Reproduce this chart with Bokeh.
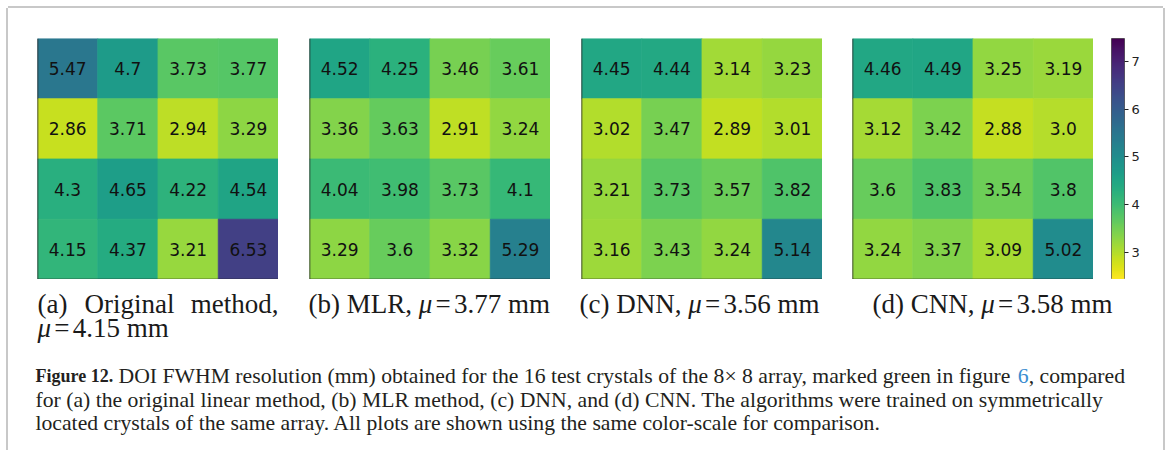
import numpy as np
from bokeh.plotting import figure
from bokeh.layouts import row, column
from bokeh.models import Range1d, LinearColorMapper, Span, LinearAxis, FixedTicker, ColumnDataSource
from bokeh.palettes import Viridis256
from bokeh.core.properties import value
from bokeh.embed import file_html
from bokeh.resources import INLINE

# ---------------- data ----------------
original_vals = [[5.47, 4.7, 3.73, 3.77],
                 [2.86, 3.71, 2.94, 3.29],
                 [4.3, 4.65, 4.22, 4.54],
                 [4.15, 4.37, 3.21, 6.53]]
mlr_vals = [[4.52, 4.25, 3.46, 3.61],
            [3.36, 3.63, 2.91, 3.24],
            [4.04, 3.98, 3.73, 4.1],
            [3.29, 3.6, 3.32, 5.29]]
dnn_vals = [[4.45, 4.44, 3.14, 3.23],
            [3.02, 3.47, 2.89, 3.01],
            [3.21, 3.73, 3.57, 3.82],
            [3.16, 3.43, 3.24, 5.14]]
cnn_vals = [[4.46, 4.49, 3.25, 3.19],
            [3.12, 3.42, 2.88, 3.0],
            [3.6, 3.83, 3.54, 3.8],
            [3.24, 3.37, 3.09, 5.02]]
color_low = 2.43
color_high = 7.48
colorbar_ticks = [3, 4, 5, 6, 7]
panel_letters = ["a", "b", "c", "d"]
panel_names = ["Original method", "MLR", "DNN", "CNN"]
panel_means = ["4.15", "3.77", "3.56", "3.58"]
caption_lines = [
    "DOI FWHM resolution (mm) obtained for the 16 test crystals of the 8\u00d7 8 array, marked green in figure",
    "for (a) the original linear method, (b) MLR method, (c) DNN, and (d) CNN. The algorithms were trained on symmetrically",
    "located crystals of the same array. All plots are shown using the same color-scale for comparison.",
]

mapper = LinearColorMapper(palette=list(reversed(Viridis256)), low=color_low, high=color_high)

# Times / Liberation Serif advance widths (em)
TR = {' ': .25, '(': .333, ')': .333, ',': .25, '.': .25, '=': .564, '\u00d7': .564, '-': .333,
      'a': .444, 'b': .5, 'c': .444, 'd': .5, 'e': .444, 'f': .333, 'g': .5, 'h': .5, 'i': .278,
      'j': .278, 'k': .5, 'l': .278, 'm': .778, 'n': .5, 'o': .5, 'p': .5, 'q': .5, 'r': .333,
      's': .389, 't': .278, 'u': .5, 'v': .5, 'w': .722, 'x': .5, 'y': .5, 'z': .444,
      'A': .722, 'C': .667, 'D': .722, 'F': .556, 'G': .722, 'H': .722, 'I': .333, 'L': .611,
      'M': .889, 'N': .722, 'O': .722, 'R': .667, 'T': .611, 'W': .944, '\u03bc': .5}


def tw(s, size, table=TR):
    return sum(table.get(ch, .5) for ch in s) * size


def heatmap(vals, left_border, width):
    nr, nc = len(vals), len(vals[0])
    xs, ys, vs, labels = [], [], [], []
    for r in range(nr):
        for c in range(nc):
            xs.append(c + 0.5)
            ys.append(r + 0.5)
            vs.append(vals[r][c])
            labels.append(str(vals[r][c]))
    src = ColumnDataSource(dict(x=xs, y=ys, v=vs, label=labels))
    p = figure(width=width, height=271, x_range=Range1d(0, nc), y_range=Range1d(nr, 0),
               output_backend="svg", toolbar_location=None,
               x_axis_location=None, y_axis_location=None,
               min_border_left=left_border, min_border_right=0,
               min_border_top=30, min_border_bottom=0)
    p.grid.visible = False
    p.outline_line_color = None
    cmap = {'field': 'v', 'transform': mapper}
    p.rect(x='x', y='y', width=1, height=1, source=src, fill_color=cmap,
           line_color=cmap, line_width=0.8)
    p.text(x='x', y='y', text='label', source=src, text_align='center',
           text_baseline='middle', text_font=value("DejaVu Sans"),
           text_font_size="17px", text_color="#111111")
    p.add_layout(Span(location=0, dimension='height', line_color="#222222", line_width=1.5))
    p.add_layout(Span(location=nr, dimension='width', line_color="#222222", line_width=1.5))
    return p


fa = heatmap(original_vals, 29, 270)
fb = heatmap(mlr_vals, 31, 272)
fc = heatmap(dnn_vals, 31, 272)
fd = heatmap(cnn_vals, 30, 271)

# colorbar
cb = figure(width=70, height=271, x_range=Range1d(0, 1), y_range=Range1d(color_low, color_high),
            output_backend="svg", toolbar_location=None,
            x_axis_location=None, y_axis_location=None,
            min_border_left=18, min_border_right=39, min_border_top=30, min_border_bottom=0)
cb.grid.visible = False
grad = np.linspace(color_low, color_high, 256).reshape(256, 1)
cb.image(image=[grad], x=0, y=color_low, dw=1, dh=color_high - color_low, color_mapper=mapper)
cb.outline_line_color = "#333333"
cb.outline_line_width = 0.8
ax = LinearAxis(ticker=FixedTicker(ticks=colorbar_ticks), major_tick_out=4, major_tick_in=0,
                minor_tick_line_color=None, axis_line_color=None,
                major_tick_line_color="#222222", major_label_standoff=3,
                major_label_text_font="DejaVu Sans", major_label_text_font_size="13px",
                major_label_text_color="#222222")
cb.add_layout(ax, "right")

# captions (data coordinates of this figure equal page pixels)
cap = figure(width=1155, height=171, x_range=Range1d(8, 1163), y_range=Range1d(450, 279),
             output_backend="svg", toolbar_location=None,
             x_axis_location=None, y_axis_location=None, min_border=0)
cap.grid.visible = False
cap.outline_line_color = None


def put(x, y, t, size, align="left", font="Liberation Serif", style="normal", color="#1a1a1a"):
    cap.text(x=[x], y=[y], text=[t], text_align=align, text_baseline="alphabetic",
             text_font=value(font), text_font_size=f"{size}px", text_font_style=style,
             text_color=color)


S = 27
L1, L2 = 303, 327
gap = 0.12 * S


def mu_expr(x, y, mean):
    put(x, y, "\u03bc", S, style="italic")
    x += tw("\u03bc", S) + gap
    put(x, y, "=", S)
    x += tw("=", S) + gap
    put(x, y, f"{mean} mm", S)


# (a) justified over two lines
put(37, L1, f"({panel_letters[0]})", S)
put(84, L1, panel_names[0].split()[0], S)
put(278, L1, panel_names[0].split()[1] + ",", S, align="right")
mu_expr(37, L2, panel_means[0])
# (b)-(d) single lines
for k, x0 in zip([1, 2, 3], [308, 579, 872]):
    head = f"({panel_letters[k]}) {panel_names[k]},"
    put(x0, L1, head, S)
    mu_expr(x0 + tw(head + " ", S), L1, panel_means[k])

# figure caption
C = 21.7
B1, B2, B3 = 375, 399, 422
put(35, B1, "Figure 12.", 18, style="bold", color="#231f20")
xr = 118
put(xr, B1, caption_lines[0], C, color="#231f20")
x6 = xr + tw(caption_lines[0] + " ", C)
put(x6, B1, "6", C, color="#3a8dd0")
put(x6 + tw("6", C), B1, ", compared", C, color="#231f20")
put(35, B2, caption_lines[1], C, color="#231f20")
put(35, B3, caption_lines[2], C, color="#231f20")

layout = column(row(fa, fb, fc, fd, cb), cap,
                styles={"margin": "8px 0 0 8px",
                        "box-shadow": "-2px 0 0 0 #c8c8c8, 2px 0 0 0 #c8c8c8, 0 -2px 0 0 #c8c8c8"})

open("out.html", "w").write(file_html(layout, INLINE))
